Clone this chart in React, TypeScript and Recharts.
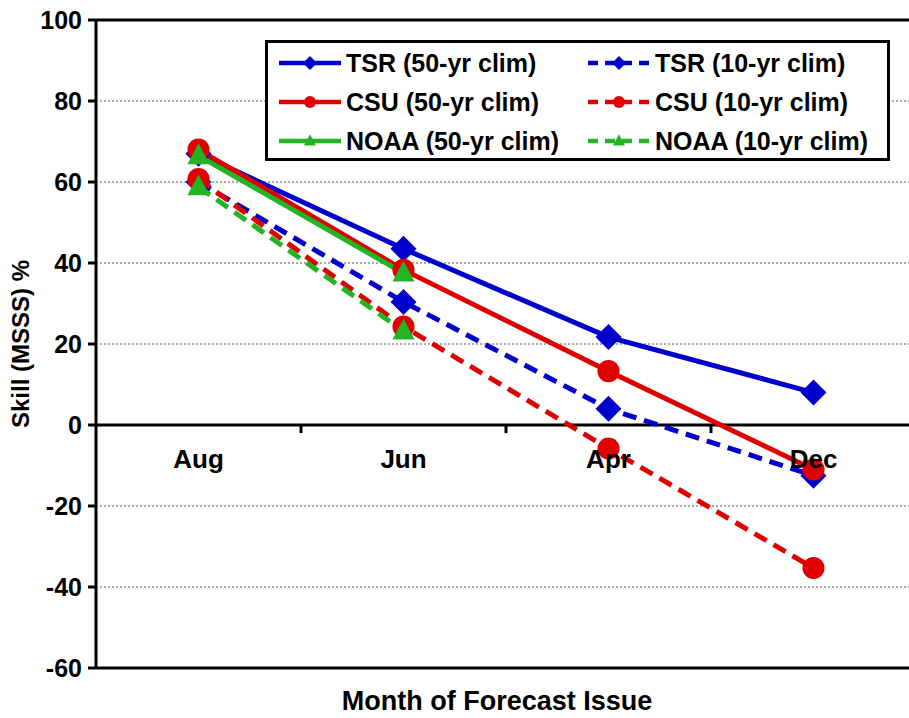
import React from "react"
import {
  CartesianGrid,
  Line,
  LineChart,
  ReferenceDot,
  ReferenceLine,
  XAxis,
  YAxis,
} from "recharts"

const months = ["Aug", "Jun", "Apr", "Dec"]
const yTicks = [-60, -40, -20, 0, 20, 40, 60, 80, 100]

const tsr50 = [67, 43.5, 21.7, 8]
const tsr10 = [60, 30.4, 4, -12.5]
const csu50 = [68, 38.3, 13.3, -11]
const csu10 = [60.7, 24.3, -5.8, -35.3]
const noaa50 = [66.5, 37.5, null, null]
const noaa10 = [58.8, 23.2, null, null]

const BLUE = "#0000CC"
const RED = "#E00000"
const GREEN = "#22B422"
const FONT = "'Liberation Sans', Arial, sans-serif"

type Shape = "diamond" | "circle" | "triangle"

const series = [
  { key: "tsr50", name: "TSR (50-yr clim)", color: BLUE, dashed: false, shape: "diamond" as Shape },
  { key: "tsr10", name: "TSR (10-yr clim)", color: BLUE, dashed: true, shape: "diamond" as Shape },
  { key: "csu50", name: "CSU (50-yr clim)", color: RED, dashed: false, shape: "circle" as Shape },
  { key: "csu10", name: "CSU (10-yr clim)", color: RED, dashed: true, shape: "circle" as Shape },
  { key: "noaa50", name: "NOAA (50-yr clim)", color: GREEN, dashed: false, shape: "triangle" as Shape },
  { key: "noaa10", name: "NOAA (10-yr clim)", color: GREEN, dashed: true, shape: "triangle" as Shape },
]

const data = months.map((m, i) => ({
  idx: i,
  month: m,
  tsr50: tsr50[i],
  tsr10: tsr10[i],
  csu50: csu50[i],
  csu10: csu10[i],
  noaa50: noaa50[i],
  noaa10: noaa10[i],
}))

function marker(shape: Shape, cx: number, cy: number, s: number, color: string, key?: any) {
  if (shape === "diamond") {
    return (
      <path
        key={key}
        d={`M${cx},${cy - s} L${cx + s},${cy} L${cx},${cy + s} L${cx - s},${cy} Z`}
        fill={color}
      />
    )
  }
  if (shape === "circle") {
    return <circle key={key} cx={cx} cy={cy} r={s * 0.85} fill={color} />
  }
  return (
    <path
      key={key}
      d={`M${cx},${cy - s * 0.95} L${cx + s * 0.85},${cy + s * 0.65} L${cx - s * 0.85},${cy + s * 0.65} Z`}
      fill={color}
    />
  )
}

const makeDot = (shape: Shape, color: string) => (props: any) => {
  const { cx, cy, index, value } = props
  if (cx == null || cy == null || value == null) return <g key={index} />
  return marker(shape, cx, cy, 13, color, index)
}

function LegendBox() {
  return (
    <div
      style={{
        position: "absolute",
        left: 265,
        top: 40,
        width: 625,
        height: 121,
        border: "3px solid #000",
        boxSizing: "border-box",
        background: "#fff",
        fontFamily: FONT,
        fontWeight: "bold",
        fontSize: 25,
      }}
    >
      {series.map((s, i) => {
        const row = Math.floor(i / 2)
        const col = i % 2
        return (
          <div
            key={s.key}
            style={{
              position: "absolute",
              left: col ? 320 : 11,
              top: 3 + row * 39,
              height: 34,
              display: "flex",
              alignItems: "center",
              whiteSpace: "nowrap",
            }}
          >
            <svg width={64} height={20} style={{ marginRight: 3 }}>
              <line
                x1={0}
                y1={10}
                x2={62}
                y2={10}
                stroke={s.color}
                strokeWidth={4.5}
                strokeDasharray={s.dashed ? "10 7" : undefined}
              />
              {marker(s.shape, 31, 10, 7, s.color)}
            </svg>
            <span>{s.name}</span>
          </div>
        )
      })}
    </div>
  )
}

export default function App() {
  return (
    <div
      style={{
        position: "absolute",
        left: 0,
        top: 0,
        width: 909,
        height: 718,
        overflow: "hidden",
        background: "#fff",
      }}
    >
      <LineChart
        width={920}
        height={718}
        data={data}
        margin={{ top: 20, right: 4, bottom: 0, left: 0 }}
        style={{ fontFamily: FONT }}
      >
        <CartesianGrid vertical={false} stroke="#555" strokeDasharray="2 2" strokeWidth={1} />
        <XAxis
          type="number"
          dataKey="idx"
          domain={[-0.5, 3.5]}
          tick={false}
          tickLine={false}
          axisLine={{ stroke: "#000", strokeWidth: 3 }}
          height={50}
          label={{
            value: "Month of Forecast Issue",
            position: "insideBottom",
            offset: 8,
            dx: -9,
            fill: "#000",
            fontSize: 27,
            fontWeight: "bold",
          }}
        />
        <YAxis
          type="number"
          domain={[-60, 100]}
          ticks={yTicks}
          width={96}
          interval={0}
          axisLine={{ stroke: "#000", strokeWidth: 3 }}
          tickLine={{ stroke: "#000", strokeWidth: 3 }}
          tickSize={8}
          tickMargin={6}
          tick={{ fill: "#000", fontSize: 25, fontWeight: "bold" }}
          label={{
            value: "Skill (MSSS) %",
            angle: -90,
            position: "insideLeft",
            offset: 20,
            fill: "#000",
            fontSize: 24,
            fontWeight: "bold",
            style: { textAnchor: "middle" },
          }}
        />
        <ReferenceLine y={100} stroke="#000" strokeWidth={3} />
        <ReferenceLine y={0} stroke="#000" strokeWidth={3} />
        {[0.5, 1.5, 2.5].map((b) => (
          <ReferenceLine
            key={b}
            segment={[
              { x: b, y: 0 },
              { x: b, y: -2 },
            ]}
            stroke="#000"
            strokeWidth={3}
          />
        ))}
        {months.map((m, i) => (
          <ReferenceDot
            key={m}
            x={i}
            y={0}
            r={1}
            fill="none"
            stroke="none"
            label={{
              value: m,
              position: "bottom",
              offset: 24,
              fill: "#000",
              fontSize: 26,
              fontWeight: "bold",
            }}
          />
        ))}
        {series.map((s) => (
          <Line
            key={s.key}
            type="linear"
            dataKey={s.key}
            name={s.name}
            stroke={s.color}
            strokeWidth={5}
            strokeDasharray={s.dashed ? "14 8" : undefined}
            dot={makeDot(s.shape, s.color)}
            activeDot={false}
            isAnimationActive={false}
          />
        ))}
      </LineChart>
      <LegendBox />
    </div>
  )
}
